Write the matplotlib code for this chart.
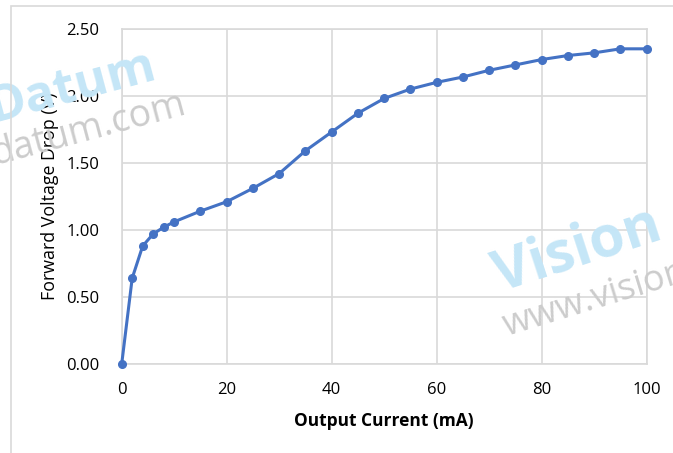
import matplotlib
matplotlib.use('Agg')
import matplotlib.pyplot as plt
from matplotlib.patches import Rectangle

plt.rcParams['font.family'] = ['Open Sans', 'DejaVu Sans']

# output current (mA) and forward voltage drop (V)
current_ma = [0, 2, 4, 6, 8, 10, 15, 20, 25, 30, 35, 40, 45, 50,
              55, 60, 65, 70, 75, 80, 85, 90, 95, 100]
voltage_v = [0.00, 0.64, 0.88, 0.97, 1.02, 1.06, 1.14, 1.21, 1.31, 1.42,
             1.59, 1.73, 1.87, 1.98, 2.05, 2.10, 2.14, 2.19, 2.23, 2.27,
             2.30, 2.32, 2.35, 2.35]
x_ticks = [0, 20, 40, 60, 80, 100]
y_ticks = [0.0, 0.5, 1.0, 1.5, 2.0, 2.5]

W, H = 673, 453
fig = plt.figure(figsize=(W / 100, H / 100), dpi=100)
fig.patch.set_facecolor('white')

# outer chart border (cropped on right and bottom)
fig.patches.append(Rectangle((11 / W, -0.1), 1.2, 1 - 6.5 / H + 0.1,
                             transform=fig.transFigure, fill=False,
                             edgecolor='#d9d9d9', linewidth=1.2))

ax = fig.add_axes([121.7 / W, 1 - 364 / H, 525 / W, (364 - 28.7) / H])
ax.plot(current_ma, voltage_v, color='#4472c4', linewidth=2.2,
        marker='o', markersize=5.5, zorder=3, clip_on=False)

ax.set_xlim(0, 100)
ax.set_ylim(0, 2.5)
ax.set_xticks(x_ticks)
ax.set_yticks(y_ticks)
ax.set_yticklabels([f'{v:.2f}' for v in y_ticks])
ax.tick_params(length=0, labelsize=12, colors='#000000')
ax.tick_params(axis='y', pad=16)
ax.tick_params(axis='x', pad=13)
ax.grid(True, color='#d9d9d9', linewidth=1.2)
ax.set_axisbelow(True)
for s in ax.spines.values():
    s.set_color('#d9d9d9')
    s.set_linewidth(1.2)

ax.set_xlabel('Output Current (mA)', fontsize=12.5, fontweight='bold', labelpad=10)
ax.set_ylabel('Forward Voltage Drop (V)', fontsize=12.8, labelpad=5)

# watermarks
def px(x, y):
    return x / W, 1 - y / H

fig.text(*px(-6, 122), 'Datum', fontsize=36, fontweight='bold', color='#c5e6f7',
         rotation=15, rotation_mode='anchor', ha='left', va='baseline', zorder=0)
fig.text(*px(-5, 165), 'datum.com', fontsize=27, color='#cccccc',
         rotation=15, rotation_mode='anchor', ha='left', va='baseline', zorder=0)
fig.text(*px(500, 292), 'Vision', fontsize=41, fontweight='bold', color='#c5e6f7',
         rotation=18, rotation_mode='anchor', ha='left', va='baseline', zorder=0)
fig.text(*px(507, 336), 'www.visiondatum.com', fontsize=26, color='#cccccc',
         rotation=17, rotation_mode='anchor', ha='left', va='baseline', zorder=0)

fig.savefig('out.png', dpi=100)
